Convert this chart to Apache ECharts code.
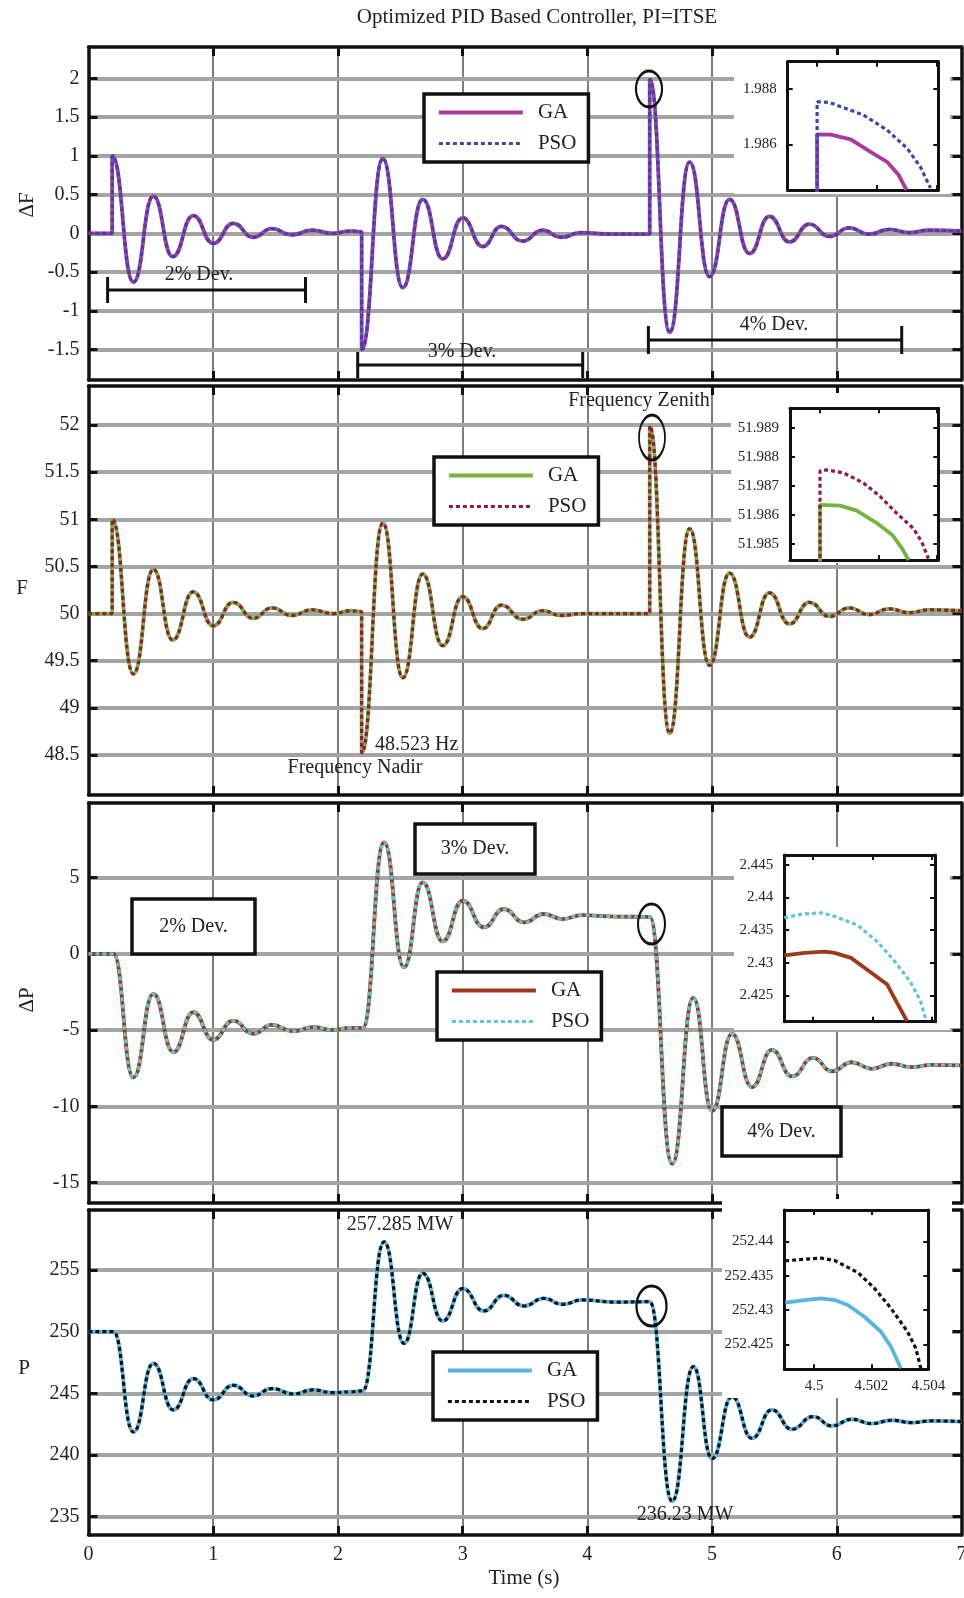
<!DOCTYPE html>
<html>
<head>
<meta charset="utf-8">
<script src="https://cdn.jsdelivr.net/npm/echarts@6/dist/echarts.min.js"></script>
<style>
html, body { margin: 0; padding: 0; background: #fff; }
#main { width: 964px; height: 1598px; }
</style>
</head>
<body>
<div id="main"></div>
<script>
/**** data ****/
// frequency signals (dF and F share the time base)
var freqTime = [0, 0.19, 0.19, 0.36, 0.52, 0.675, 0.84, 1.0, 1.16, 1.32, 1.47, 1.63, 1.79, 1.96, 2.1, 2.19, 2.19, 2.36, 2.52, 2.68,
	2.84, 3.0, 3.16, 3.31, 3.48, 3.64, 3.79, 3.95, 4.2, 4.5, 4.5, 4.66, 4.82, 4.98, 5.14, 5.3, 5.46, 5.62, 5.78, 5.94,
	6.1, 6.26, 6.42, 6.58, 6.74, 7.0];
var dfValues = [0, 0, 1.0, -0.63, 0.48, -0.30, 0.23, -0.13, 0.13, -0.05, 0.06, -0.02, 0.04, 0.0, 0.03, 0.02, -1.5, 0.965, -0.70, 0.44,
	-0.33, 0.20, -0.17, 0.09, -0.10, 0.04, -0.05, 0.01, -0.01, -0.01, 1.99, -1.28, 0.92, -0.56, 0.44, -0.26, 0.22, -0.11, 0.12, -0.04,
	0.07, -0.01, 0.05, 0.01, 0.04, 0.03];
var fValues = [50, 50, 51.0, 49.36, 50.47, 49.72, 50.23, 49.87, 50.12, 49.95, 50.06, 49.98, 50.04, 50.0, 50.03, 50.02, 48.523, 50.96, 49.32, 50.42,
	49.66, 50.18, 49.84, 50.09, 49.94, 50.03, 49.98, 50.0, 50.0, 50.0, 51.99, 48.73, 50.90, 49.45, 50.43, 49.75, 50.22, 49.89, 50.12, 49.97,
	50.06, 49.99, 50.05, 50.01, 50.04, 50.03];
// power signals (dP and P share the time base)
var powTime = [0, 0.2, 0.36, 0.52, 0.68, 0.84, 1.0, 1.16, 1.32, 1.47, 1.64, 1.8, 1.96, 2.1, 2.2, 2.37, 2.53, 2.68, 2.84, 3.0,
	3.17, 3.33, 3.49, 3.65, 3.8, 3.96, 4.23, 4.5, 4.68, 4.85, 5.0, 5.16, 5.32, 5.48, 5.64, 5.81, 5.96, 6.12, 6.28, 6.44,
	6.6, 6.76, 7.0];
var dpValues = [0, 0, -8.1, -2.62, -6.44, -3.82, -5.63, -4.37, -5.24, -4.65, -5.07, -4.80, -4.98, -4.85, -4.85, 7.31, -0.87, 4.69, 0.83, 3.49,
	1.75, 2.95, 2.07, 2.62, 2.29, 2.55, 2.45, 2.43, -13.76, -2.88, -10.3, -5.24, -8.73, -6.29, -8.03, -6.81, -7.69, -7.1, -7.53, -7.2,
	-7.42, -7.27, -7.31];
var pValues = [250, 250, 241.86, 247.43, 243.65, 246.19, 244.46, 245.65, 244.78, 245.38, 244.95, 245.27, 245.05, 245.12, 245.2, 257.285, 249.05, 254.73, 250.86, 253.49,
	251.68, 252.95, 252.08, 252.70, 252.22, 252.57, 252.4, 252.43, 236.23, 247.16, 239.7, 244.73, 241.35, 243.65, 242.08, 243.11, 242.35, 242.89, 242.54, 242.81,
	242.62, 242.76, 242.7];

// zoomed views around t = 4.5 s
var zdfTimeGA = [4.5, 4.5, 4.50045, 4.50112, 4.50178, 4.50233, 4.50272, 4.50298];
var zdfGA = [0, 1.98636, 1.98635, 1.98618, 1.98573, 1.98537, 1.98489, 1.98435];
var zdfTimePSO = [4.5, 4.5, 4.5004, 4.50155, 4.50233, 4.503, 4.50344, 4.50378];
var zdfPSO = [0, 1.98754, 1.98752, 1.98706, 1.98652, 1.98586, 1.98519, 1.98442];

var zfTimeGA = [4.5, 4.5, 4.50069, 4.50126, 4.50195, 4.50247, 4.50281, 4.50304];
var zfGA = [50, 51.98635, 51.98632, 51.98615, 51.98572, 51.98532, 51.98486, 51.98445];
var zfTimePSO = [4.5, 4.5, 4.50023, 4.5008, 4.50149, 4.50206, 4.50263, 4.5032, 4.50349, 4.50372];
var zfPSO = [50, 51.98752, 51.98755, 51.98745, 51.9871, 51.98664, 51.98606, 51.98554, 51.98508, 51.9845];

var zdpTimeGA = [4.49903, 4.49972, 4.50039, 4.50072, 4.50128, 4.50194, 4.5025, 4.50283, 4.50317];
var zdpGA = [2.43116, 2.43153, 2.43173, 2.43153, 2.43076, 2.42856, 2.42668, 2.42388, 2.42107];
var zdpTimePSO = [4.49903, 4.49961, 4.50028, 4.50072, 4.5015, 4.50217, 4.50272, 4.50328, 4.50361, 4.50381];
var zdpPSO = [2.43689, 2.43745, 2.43765, 2.43714, 2.43576, 2.43321, 2.43041, 2.4271, 2.4243, 2.42125];

var zpTimeGA = [4.49898, 4.49967, 4.50025, 4.50072, 4.50118, 4.50176, 4.50234, 4.50269, 4.50304];
var zpGA = [252.43107, 252.43146, 252.43171, 252.43146, 252.43073, 252.42902, 252.42683, 252.42464, 252.4215];
var zpTimePSO = [4.49898, 4.49967, 4.50025, 4.50072, 4.50153, 4.50211, 4.50269, 4.50327, 4.50356, 4.50374];
var zpPSO = [252.43718, 252.43742, 252.43757, 252.43722, 252.43547, 252.43319, 252.43026, 252.42685, 252.42442, 252.4215];

// tick labels
var timeTicks = [0, 1, 2, 3, 4, 5, 6, 7];
var timeInner = [1, 2, 3, 4, 5, 6];
var dfTicks = [-1.5, -1, -0.5, 0, 0.5, 1, 1.5, 2];
var fTicks = [48.5, 49, 49.5, 50, 50.5, 51, 51.5, 52];
var dpTicks = [-15, -10, -5, 0, 5];
var pTicks = [235, 240, 245, 250, 255];
var zTimeTicks = [4.5, 4.502, 4.504];
var zdfTicks = [1.986, 1.988];
var zfTicks = [51.985, 51.986, 51.987, 51.988, 51.989];
var zdpTicks = [2.425, 2.43, 2.435, 2.44, 2.445];
var zpTicks = [252.425, 252.43, 252.435, 252.44];

/**** layout ****/
var FONT = '"Liberation Serif", "Times New Roman", serif';
var INK = '#111';

var grids = [], xAxes = [], yAxes = [], series = [];

function pairs(ts, vs) {
	return ts.map(function(t, i) { return [t, vs[i]]; });
}

function addPanel(box, o) {
	var gi = grids.length;
	grids.push({left: box[0], top: box[1], width: box[2], height: box[3], outerBoundsMode: 'none', containLabel: false});
	var xi = xAxes.length, yi = yAxes.length;
	var lab = {color: '#222', fontFamily: FONT, fontSize: o.font};
	var tick = {show: true, inside: true, length: o.tickLen, lineStyle: {color: INK, width: o.tickW}};
	var line = {show: true, onZero: false, lineStyle: {color: INK, width: o.lw}};
	xAxes.push({
		gridIndex: gi, type: 'value', min: o.xmin, max: o.xmax, position: 'bottom', z: o.z,
		axisLine: line,
		axisTick: Object.assign({customValues: o.xTicks}, tick),
		axisLabel: o.xLabels ? Object.assign({show: true, customValues: o.xLabels, margin: o.xMargin}, lab) : {show: false},
		splitLine: o.grid ? {show: true, lineStyle: {color: '#7c7c7c', width: 2}} : {show: false}
	});
	xAxes.push({
		gridIndex: gi, type: 'value', min: o.xmin, max: o.xmax, position: 'top', z: o.z + 1,
		axisLine: line,
		axisTick: Object.assign({customValues: o.xTicks}, tick),
		axisLabel: {show: false}, splitLine: {show: false}
	});
	yAxes.push({
		gridIndex: gi, type: 'value', min: o.ymin, max: o.ymax, position: 'left', z: o.z + 1,
		axisLine: line,
		axisTick: Object.assign({customValues: o.yTicks}, tick),
		axisLabel: Object.assign({show: true, customValues: o.yTicks, margin: o.yMargin}, lab),
		splitLine: o.grid ? {show: true, lineStyle: {color: '#a4a4a4', width: 4}} : {show: false}
	});
	yAxes.push({
		gridIndex: gi, type: 'value', min: o.ymin, max: o.ymax, position: 'right', z: o.z + 2,
		axisLine: line,
		axisTick: Object.assign({customValues: o.yTicks}, tick),
		axisLabel: {show: false}, splitLine: {show: false}
	});
	return {x: xi, y: yi};
}

function addCurve(ax, name, ts, vs, color, dotted, z, smooth) {
	series.push({
		name: name, type: 'line', xAxisIndex: ax.x, yAxisIndex: ax.y,
		data: pairs(ts, vs), symbol: 'none', showSymbol: false, z: z,
		smooth: smooth, smoothMonotone: 'x', silent: true,
		itemStyle: {color: color},
		lineStyle: dotted ? {color: color, width: 3.2, type: [4, 3]} : {color: color, width: 3.8}
	});
}

var mainOpt = {xmin: 0, xmax: 7, xTicks: timeInner, lw: 3.5, tickLen: 9, tickW: 3, font: 20, yMargin: 9, xMargin: 10, z: 0, grid: true};
var zoomOpt = {lw: 3, tickLen: 5, tickW: 2, font: 15, yMargin: 11, xMargin: 9, z: 6, grid: false, xTicks: zTimeTicks};

var colors = [
	['#a63b9e', '#3a47a4'],
	['#7ab241', '#8f1c3d'],
	['#9b3a1b', '#5cc6d6'],
	['#5ab4e0', '#111111']
];

// main panels
var p1 = addPanel([88.5, 47, 873, 333], Object.assign({}, mainOpt, {ymin: -1.894, ymax: 2.407, yTicks: dfTicks}));
var p2 = addPanel([88.5, 386, 873, 409], Object.assign({}, mainOpt, {ymin: 48.076, ymax: 52.414, yTicks: fTicks}));
var p3 = addPanel([88.5, 803, 873, 400], Object.assign({}, mainOpt, {ymin: -16.33, ymax: 9.9, yTicks: dpTicks}));
var p4 = addPanel([88.5, 1210, 873, 325], Object.assign({}, mainOpt, {ymin: 233.5, ymax: 259.87, yTicks: pTicks, xLabels: timeTicks}));

addCurve(p1, 'GA_1', freqTime, dfValues, colors[0][0], false, 2, 0.5);
addCurve(p1, 'PSO_1', freqTime, dfValues, colors[0][1], true, 3, 0.5);
addCurve(p2, 'GA_2', freqTime, fValues, colors[1][0], false, 2, 0.5);
addCurve(p2, 'PSO_2', freqTime, fValues, colors[1][1], true, 3, 0.5);
addCurve(p3, 'GA_3', powTime, dpValues, colors[2][0], false, 2, 0.5);
addCurve(p3, 'PSO_3', powTime, dpValues, colors[2][1], true, 3, 0.5);
addCurve(p4, 'GA_4', powTime, pValues, colors[3][0], false, 2, 0.5);
addCurve(p4, 'PSO_4', powTime, pValues, colors[3][1], true, 3, 0.5);

// zoom insets
var z1 = addPanel([787.7, 61.7, 150.6, 128.3], Object.assign({}, zoomOpt, {xmin: 4.49902, xmax: 4.50404, ymin: 1.98435, ymax: 1.98899, yTicks: zdfTicks}));
var z2 = addPanel([790, 408.3, 148.3, 151.7], Object.assign({}, zoomOpt, {xmin: 4.49897, xmax: 4.50406, ymin: 51.98445, ymax: 51.98967, yTicks: zfTicks}));
var z3 = addPanel([784.3, 855, 150.7, 166.7], Object.assign({}, zoomOpt, {xmin: 4.49903, xmax: 4.50411, ymin: 2.421, ymax: 2.4465, yTicks: zdpTicks}));
var z4 = addPanel([784.3, 1210, 144, 159.3], Object.assign({}, zoomOpt, {xmin: 4.49895, xmax: 4.504, ymin: 252.42135, ymax: 252.4446, yTicks: zpTicks, xLabels: zTimeTicks}));

addCurve(z1, 'zGA_1', zdfTimeGA, zdfGA, colors[0][0], false, 9, false);
addCurve(z1, 'zPSO_1', zdfTimePSO, zdfPSO, colors[0][1], true, 10, false);
addCurve(z2, 'zGA_2', zfTimeGA, zfGA, colors[1][0], false, 9, false);
addCurve(z2, 'zPSO_2', zfTimePSO, zfPSO, colors[1][1], true, 10, false);
addCurve(z3, 'zGA_3', zdpTimeGA, zdpGA, colors[2][0], false, 9, false);
addCurve(z3, 'zPSO_3', zdpTimePSO, zdpPSO, colors[2][1], true, 10, false);
addCurve(z4, 'zGA_4', zpTimeGA, zpGA, colors[3][0], false, 9, false);
addCurve(z4, 'zPSO_4', zpTimePSO, zpPSO, colors[3][1], true, 10, false);

function makeLegend(idx, left, top) {
	return {
		data: ['GA_' + idx, 'PSO_' + idx], orient: 'vertical', left: left, top: top,
		itemWidth: 84, itemHeight: 14, itemGap: 10, padding: [8, 12, 8, 13],
		backgroundColor: '#fff', borderColor: INK, borderWidth: 3.5, borderRadius: 0,
		selectedMode: false, z: 6,
		formatter: function(n) { return n.split('_')[0]; },
		textStyle: {fontFamily: FONT, fontSize: 21, color: '#222', padding: [0, 0, 0, 10]},
		itemStyle: {opacity: 0},
		lineStyle: {width: 'inherit'}
	};
}

/**** annotations ****/
function txt(s, x, y, size, extra) {
	return Object.assign({
		type: 'text', x: x, y: y, z: 12,
		style: {text: s, fill: '#222', font: size + 'px ' + FONT, textAlign: 'center', verticalAlign: 'middle'}
	}, extra || {});
}
function ring(cx, cy, rx, ry) {
	return {type: 'circle', x: cx, y: cy, scaleX: rx / ry, z: 12,
		shape: {cx: 0, cy: 0, r: ry}, style: {fill: 'none', stroke: INK, lineWidth: 3}};
}
function bracket(x0, x1, y, h) {
	return {type: 'group', z: 12, children: [
		{type: 'line', z: 12, shape: {x1: x0, y1: y, x2: x1, y2: y}, style: {stroke: INK, lineWidth: 3}},
		{type: 'line', z: 12, shape: {x1: x0, y1: y - h, x2: x0, y2: y + h}, style: {stroke: INK, lineWidth: 3}},
		{type: 'line', z: 12, shape: {x1: x1, y1: y - h, x2: x1, y2: y + h}, style: {stroke: INK, lineWidth: 3}}
	]};
}
function box(x, y, w, h, s) {
	return {type: 'group', z: 12, children: [
		{type: 'rect', z: 12, shape: {x: x, y: y, width: w, height: h}, style: {fill: '#fff', stroke: INK, lineWidth: 3.5}},
		txt(s, x + w / 2, y + h / 2, 20)
	]};
}
function patch(x, y, w, h) {
	return {type: 'rect', z: 5, shape: {x: x, y: y, width: w, height: h}, style: {fill: '#fff'}};
}

var graphics = [
	patch(734, 55, 216, 139),
	patch(731, 393, 209, 170),
	patch(734, 847, 216, 183),
	patch(722, 1199, 230, 199),
	txt('Optimized PID Based Controller, PI=ITSE', 537, 17, 21),
	txt('\u0394F', 27, 205, 21, {rotation: Math.PI / 2}),
	txt('F', 22, 588, 21),
	txt('\u0394P', 27, 1000, 21, {rotation: Math.PI / 2}),
	txt('P', 24, 1368, 21),
	txt('Time (s)', 524, 1578, 21),
	bracket(107.6, 305.5, 290, 13),
	bracket(357.7, 582.7, 365, 13),
	bracket(648.4, 901.7, 340, 14),
	txt('2% Dev.', 199, 275, 20),
	txt('3% Dev.', 462, 352, 20),
	txt('4% Dev.', 774, 325, 20),
	ring(649, 89, 13, 18),
	ring(652, 437.5, 13, 22.5),
	ring(651.5, 924, 13.5, 20),
	ring(651.5, 1306, 15, 20),
	txt('Frequency Zenith', 639, 401, 20),
	txt('48.523 Hz', 375, 745, 20, {style: {text: '48.523 Hz', fill: '#222', font: '20px ' + FONT, textAlign: 'left', verticalAlign: 'middle'}}),
	txt('Frequency Nadir', 355, 768, 20),
	box(132, 899, 123, 55, '2% Dev.'),
	box(415, 824, 120, 50, '3% Dev.'),
	box(722, 1107, 119, 49, '4% Dev.'),
	txt('257.285 MW', 400, 1225, 20),
	txt('236.23 MW', 685, 1515, 20)
];

var myChart = echarts.init(document.getElementById('main'), null, {renderer: 'canvas'});
var option = {
	backgroundColor: '#fff',
	animation: false,
	grid: grids,
	xAxis: xAxes,
	yAxis: yAxes,
	legend: [makeLegend(1, 424, 94), makeLegend(2, 434, 457), makeLegend(3, 437, 972), makeLegend(4, 433, 1352)],
	series: series,
	graphic: {elements: graphics}
};
myChart.setOption(option);

window.onresize = function() {
	myChart.resize();
};
</script>
</body>
</html>
